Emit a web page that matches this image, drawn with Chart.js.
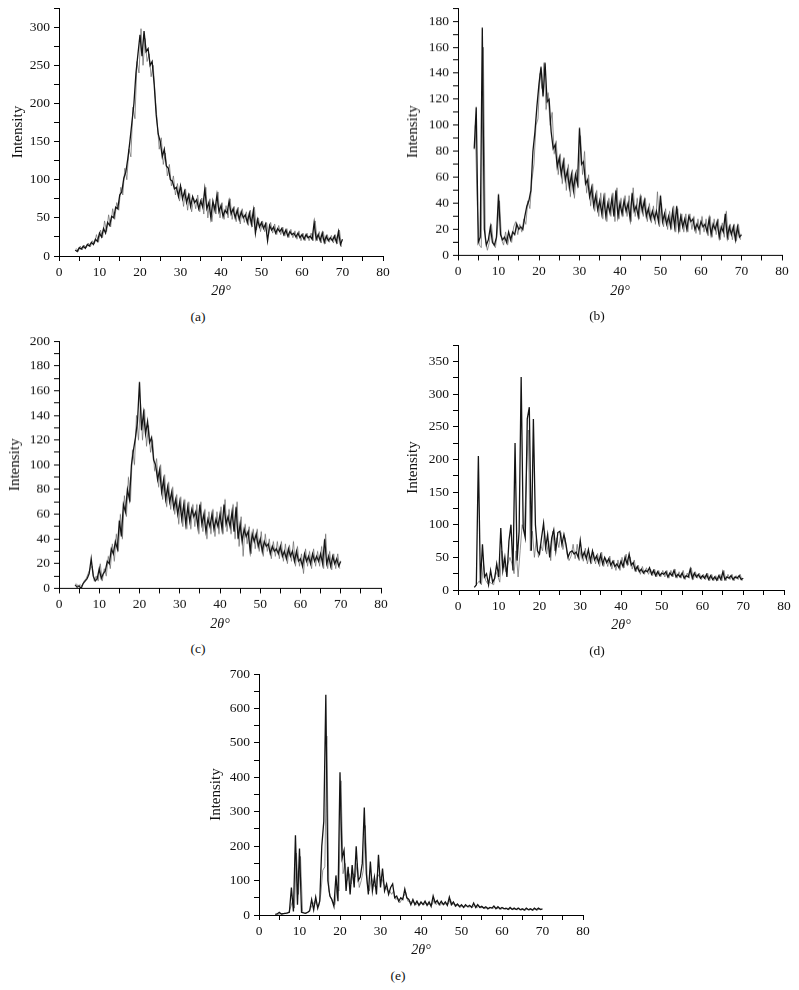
<!DOCTYPE html>
<html>
<head>
<meta charset="utf-8">
<script src="https://cdn.jsdelivr.net/npm/chart.js@4.4.1/dist/chart.umd.min.js"></script>
<style>
  html, body { margin: 0; padding: 0; background: #fff; }
  body { width: 799px; height: 990px; position: relative; overflow: hidden; }
  .panel { position: absolute; }
  .lbl { position: absolute; font-family: "Liberation Serif", serif; font-size: 13.5px; color: #111; transform: translate(-50%, -50%); white-space: nowrap; }
</style>
</head>
<body>
<script>
// 2θ grid (degrees) for the main trace
const twoTheta = [
  4,4.5,5,5.5,6,6.5,7,7.5,8,8.5,
  9,9.5,10,10.5,11,11.5,12,12.5,13,13.5,
  14,14.5,15,15.5,16,16.5,17,17.5,18,18.5,
  19,19.5,20,20.5,21,21.5,22,22.5,23,23.5,
  24,24.5,25,25.5,26,26.5,27,27.5,28,28.5,
  29,29.5,30,30.5,31,31.5,32,32.5,33,33.5,
  34,34.5,35,35.5,36,36.5,37,37.5,38,38.5,
  39,39.5,40,40.5,41,41.5,42,42.5,43,43.5,
  44,44.5,45,45.5,46,46.5,47,47.5,48,48.5,
  49,49.5,50,50.5,51,51.5,52,52.5,53,53.5,
  54,54.5,55,55.5,56,56.5,57,57.5,58,58.5,
  59,59.5,60,60.5,61,61.5,62,62.5,63,63.5,
  64,64.5,65,65.5,66,66.5,67,67.5,68,68.5,
  69,69.5,70
];

// 2θ grid for the lighter noise scatter between main points
const twoThetaMid = [
  4.25,4.75,5.25,5.75,6.25,6.75,7.25,7.75,8.25,8.75,
  9.25,9.75,10.25,10.75,11.25,11.75,12.25,12.75,13.25,13.75,
  14.25,14.75,15.25,15.75,16.25,16.75,17.25,17.75,18.25,18.75,
  19.25,19.75,20.25,20.75,21.25,21.75,22.25,22.75,23.25,23.75,
  24.25,24.75,25.25,25.75,26.25,26.75,27.25,27.75,28.25,28.75,
  29.25,29.75,30.25,30.75,31.25,31.75,32.25,32.75,33.25,33.75,
  34.25,34.75,35.25,35.75,36.25,36.75,37.25,37.75,38.25,38.75,
  39.25,39.75,40.25,40.75,41.25,41.75,42.25,42.75,43.25,43.75,
  44.25,44.75,45.25,45.75,46.25,46.75,47.25,47.75,48.25,48.75,
  49.25,49.75,50.25,50.75,51.25,51.75,52.25,52.75,53.25,53.75,
  54.25,54.75,55.25,55.75,56.25,56.75,57.25,57.75,58.25,58.75,
  59.25,59.75,60.25,60.75,61.25,61.75,62.25,62.75,63.25,63.75,
  64.25,64.75,65.25,65.75,66.25,66.75,67.25,67.75,68.25,68.75,
  69.25,69.75
];

const intensityA = [
  8,6,11,9,13,10,15,13,18,15,
  22,19,30,25,36,30,44,40,52,50,
  64,62,80,84,102,110,128,150,175,200,
  240,265,290,262,295,268,272,250,255,225,
  185,160,150,130,140,118,115,100,98,88,
  90,78,92,75,85,70,80,65,78,70,
  74,62,72,64,88,62,70,50,72,60,
  80,58,66,52,60,56,72,55,62,50,
  60,48,58,50,54,44,56,42,60,30,
  48,38,44,36,42,20,40,34,38,30,
  36,32,36,28,34,26,32,28,30,25,
  30,24,28,22,28,24,26,22,44,22,
  28,20,30,18,26,20,24,20,26,18,
  32,15,22
];
const noiseA = [
  10,6,13,8,14,11,17,12,20,16,
  28,18,34,24,46,32,54,38,62,48,
  70,60,90,80,115,100,140,130,195,180,
  255,240,298,250,285,255,265,235,250,210,
  175,140,155,120,135,105,120,92,105,80,
  95,72,90,65,88,60,82,58,76,62,
  80,58,76,55,90,50,75,45,68,55,
  84,50,70,48,66,50,75,48,65,45,
  64,42,62,44,58,40,60,38,64,34,
  50,32,46,32,44,28,44,30,42,28,
  40,28,38,26,36,24,35,24,33,22,
  33,20,30,20,30,20,30,20,46,20,
  32,17,32,16,28,18,27,17,28,16,
  34,12
];

const intensityB = [
  82,114,10,14,175,20,8,12,22,10,
  8,14,47,16,12,14,10,18,12,18,
  16,24,20,22,20,30,38,42,50,80,
  95,115,132,145,122,148,118,120,95,82,
  85,68,75,62,72,58,65,52,62,50,
  62,55,98,70,72,55,58,45,52,38,
  46,35,42,32,44,30,40,33,44,30,
  50,30,40,32,42,34,40,28,48,34,
  38,30,44,34,42,30,36,28,34,28,
  34,26,46,26,32,24,30,22,34,22,
  38,20,30,22,28,20,30,26,28,20,
  24,20,26,22,24,18,28,16,24,20,
  26,14,22,18,32,14,22,16,22,12,
  22,14,16
];
const noiseB = [
  100,40,8,6,160,12,4,10,24,8,
  6,20,42,12,8,18,8,16,10,22,
  26,16,24,18,28,24,42,36,58,70,
  100,105,140,128,148,112,125,100,110,78,
  88,62,78,55,75,50,70,45,66,44,
  66,52,92,62,80,48,62,38,55,34,
  50,30,48,28,48,26,44,30,48,26,
  52,28,44,30,46,30,46,26,52,30,
  44,28,46,30,44,26,40,25,38,24,
  49,22,40,22,36,20,34,20,38,18,
  36,18,32,18,32,18,32,20,30,17,
  28,16,30,18,28,15,30,14,28,16,
  28,12,25,14,34,12,24,12,24,11,
  24,12
];

const intensityC = [
  3,1,2,0,4,6,8,12,24,10,
  6,8,16,8,12,14,22,20,32,28,
  38,32,55,42,68,62,80,72,100,112,
  122,135,167,128,142,125,135,118,122,104,
  100,88,96,78,88,72,82,70,78,65,
  72,60,70,56,68,52,66,54,64,58,
  62,50,68,52,60,46,56,50,60,48,
  56,50,60,48,68,52,58,50,62,46,
  66,40,52,38,48,42,46,30,44,38,
  44,34,40,30,38,34,36,28,34,30,
  32,28,34,26,30,24,32,26,30,22,
  30,22,24,18,28,22,26,20,28,22,
  26,22,28,20,40,20,26,18,26,20,
  24,18,22
];
const noiseC = [
  4,2,3,2,6,8,12,16,18,6,
  10,6,20,6,16,10,26,16,36,22,
  44,30,60,40,75,58,90,70,112,100,
  140,120,150,120,145,115,132,110,120,95,
  105,82,100,72,92,66,86,64,82,60,
  76,52,74,50,72,48,70,48,68,50,
  68,44,70,46,64,40,62,44,64,42,
  62,44,66,44,72,46,64,44,68,40,
  70,34,58,26,52,36,50,28,48,32,
  48,30,46,26,44,30,40,24,38,26,
  38,24,38,22,36,20,35,22,38,18,
  34,18,28,12,32,18,30,16,32,18,
  30,18,34,16,44,16,30,15,28,16,
  28,16
];

const intensityD = [
  4,8,205,10,70,20,25,8,30,12,
  18,40,20,95,30,50,20,75,100,30,
  225,45,90,326,95,80,262,280,60,262,
  100,60,55,80,102,65,85,50,80,92,
  60,88,90,70,85,70,50,58,60,55,
  58,50,76,50,58,48,62,44,60,46,
  52,42,54,40,50,42,48,38,44,36,
  40,34,44,36,50,40,55,38,42,30,
  36,28,32,26,30,28,34,24,30,22,
  28,22,26,24,28,20,26,22,30,20,
  24,20,26,18,22,20,32,18,26,20,
  24,18,22,18,24,16,22,16,20,15,
  22,16,28,16,20,18,22,16,20,18,
  22,16,18
];
const noiseD = [
  6,10,14,8,40,15,10,12,10,8,
  28,22,12,60,40,28,40,50,40,25,
  60,20,60,100,90,170,245,60,90,50,
  80,50,70,60,90,55,75,45,90,60,
  80,65,88,62,80,55,45,52,70,48,
  70,45,62,44,64,40,56,40,58,40,
  56,36,58,36,48,36,52,32,46,30,
  46,30,50,34,55,38,50,32,46,28,
  38,24,36,24,34,24,32,22,32,20,
  30,20,30,20,30,18,30,20,32,18,
  28,18,30,16,26,18,34,16,28,18,
  26,16,24,16,26,14,24,14,22,14,
  24,14,30,14,24,16,24,14,22,16,
  24,14
];

const intensityE = [
  2,3,8,3,4,5,6,8,80,10,
  232,30,193,8,6,5,8,12,45,15,
  52,20,40,200,272,640,100,55,45,25,
  115,40,415,165,188,70,140,60,145,80,
  200,100,110,150,312,120,60,155,70,110,
  60,175,80,135,70,90,60,80,90,50,
  55,40,50,45,75,50,45,30,45,30,
  40,28,38,30,40,28,38,25,55,35,
  42,30,40,30,38,28,52,30,38,26,
  32,24,30,22,30,24,28,22,35,22,
  30,22,25,20,24,18,22,20,26,18,
  24,18,22,18,20,16,22,16,20,16,
  20,15,18,14,20,15,18,14,20,15,
  20,16,18
];
const noiseE = [
  3,2,4,2,5,4,6,20,40,20,
  180,60,170,10,5,6,8,20,30,40,
  30,25,60,130,140,520,70,50,35,30,
  80,70,390,120,150,100,120,90,120,110,
  150,80,100,130,260,90,70,110,90,80,
  120,110,110,90,80,70,70,60,70,45,
  50,35,45,55,65,40,40,35,38,30,
  35,30,35,30,35,30,32,30,45,30,
  38,28,36,30,34,32,45,30,34,26,
  30,22,28,22,28,22,26,22,30,20,
  28,20,24,18,22,18,22,18,24,18,
  22,16,22,16,20,16,20,16,18,15,
  20,14,18,14,18,14,18,14,18,14,
  18,16
];

const panelLetters = ["(a)", "(b)", "(c)", "(d)", "(e)"];
const yMaxes = [325, 190, 200, 375, 700];
const yMinorSteps = [25, 10, 10, 25, 50];
const yMajorSteps = [50, 20, 20, 50, 100];
const xTitle = "2\u03B8\u00B0";
const yTitle = "Intensity";

// layout: chart-area boxes in page pixels [left, top, right, bottom] and y-title offset
const boxes = [
  [59, 8, 383, 256, 41],
  [458, 8, 782, 254.5, 45],
  [59, 341, 381, 587.5, 44],
  [458, 345, 784, 590, 45],
  [259, 674, 583, 915, 42.5]
];
const seriesList = [intensityA, intensityB, intensityC, intensityD, intensityE];
const noiseList = [noiseA, noiseB, noiseC, noiseD, noiseE];

const PADL = 60, PADT = 12, PADR = 22, XH = 44;
const serif = "'Liberation Serif', 'Times New Roman', serif";

seriesList.forEach((ys, i) => {
  const [L, T, R, B, yOff] = boxes[i];
  const w = (R - L) + PADL + PADR;
  const h = (B - T) + PADT + XH;
  const wrap = document.createElement('div');
  wrap.className = 'panel';
  wrap.style.left = (L - PADL) + 'px';
  wrap.style.top = (T - PADT) + 'px';
  wrap.style.width = w + 'px';
  wrap.style.height = h + 'px';
  const cv = document.createElement('canvas');
  wrap.appendChild(cv);
  document.body.appendChild(wrap);

  const lbl = document.createElement('div');
  lbl.className = 'lbl';
  lbl.textContent = panelLetters[i];
  lbl.style.left = (L + 139) + 'px';
  lbl.style.top = (B + 61) + 'px';
  document.body.appendChild(lbl);

  const titleFontSize = 15;
  const titleLH = titleFontSize * 1.2;
  const yTitlePad = PADL - yOff - titleLH / 2;
  const nz = noiseList[i];

  new Chart(cv, {
    type: 'line',
    data: {
      datasets: [{
        data: twoTheta.map((x, k) => ({ x: x, y: ys[k] })),
        borderColor: '#141414',
        borderWidth: 1.3,
        pointRadius: 0,
        tension: 0,
        fill: false,
        order: 0
      }, {
        data: twoThetaMid.map((x, k) => ({ x: x, y: nz[k] })),
        borderColor: 'rgba(110,110,110,0.75)',
        borderWidth: 1,
        pointRadius: 0,
        tension: 0,
        fill: false,
        order: 1
      }]
    },
    options: {
      responsive: true,
      maintainAspectRatio: false,
      animation: false,
      events: [],
      layout: { padding: { left: 0, top: PADT, right: PADR, bottom: 0 } },
      plugins: { legend: { display: false }, tooltip: { enabled: false } },
      scales: {
        x: {
          type: 'linear',
          min: 0, max: 80,
          afterFit: (s) => { s.height = XH; },
          border: { display: true, color: '#000', width: 1 },
          grid: { display: true, drawOnChartArea: false, drawTicks: true, tickLength: 5, color: '#000' },
          ticks: {
            stepSize: 5,
            autoSkip: false,
            maxRotation: 0,
            padding: 3,
            color: '#111',
            font: { family: serif, size: 13.5 },
            callback: (v) => (v % 10 === 0 ? String(v) : '')
          },
          title: {
            display: true,
            text: xTitle,
            color: '#111',
            padding: { top: 0, bottom: 0 },
            font: { family: serif, size: 14, style: 'italic' }
          }
        },
        y: {
          type: 'linear',
          min: 0, max: yMaxes[i],
          afterFit: (s) => { s.width = PADL; },
          border: { display: true, color: '#000', width: 1 },
          grid: { display: true, drawOnChartArea: false, drawTicks: true, tickLength: 5, color: '#000' },
          ticks: {
            stepSize: yMinorSteps[i],
            autoSkip: false,
            padding: 4,
            color: '#111',
            font: { family: serif, size: 13.5 },
            callback: (v) => (v % yMajorSteps[i] === 0 ? String(v) : '')
          },
          title: {
            display: true,
            text: yTitle,
            color: '#111',
            padding: { top: yTitlePad, bottom: 0 },
            font: { family: serif, size: titleFontSize }
          }
        }
      }
    }
  });
});
</script>
</body>
</html>
